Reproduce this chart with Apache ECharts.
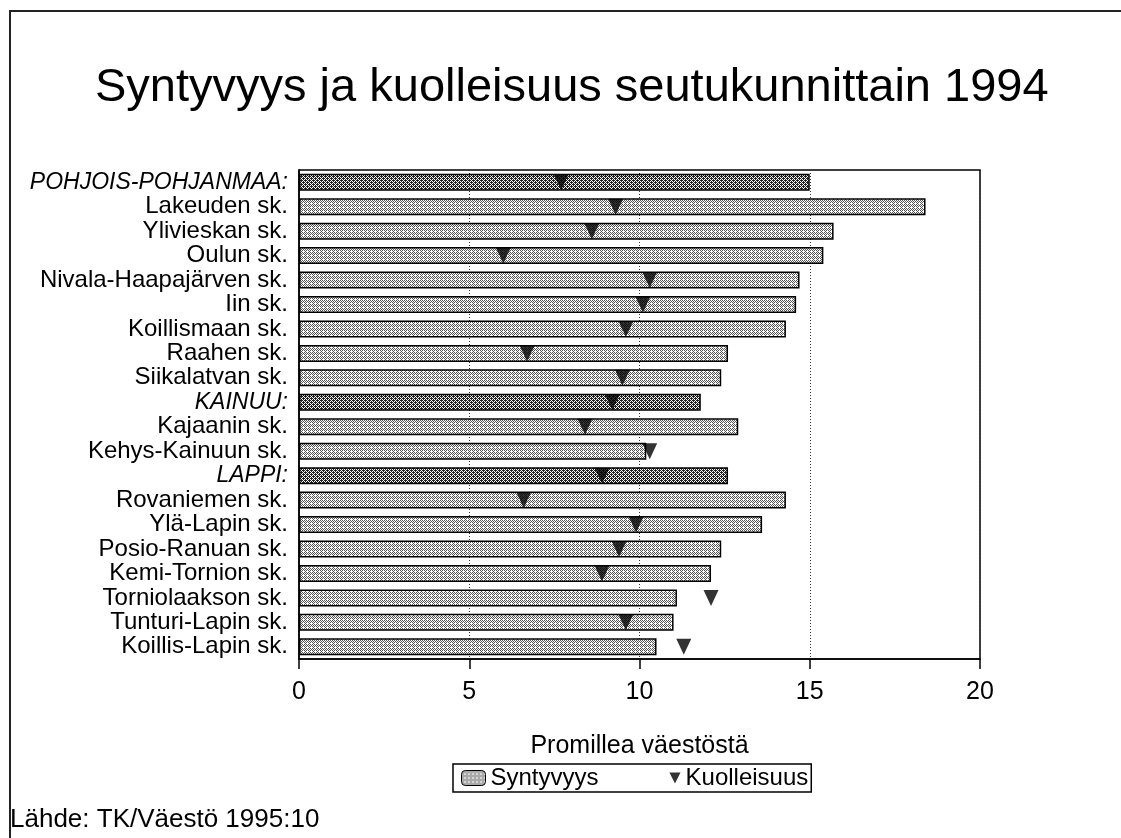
<!DOCTYPE html>
<html>
<head>
<meta charset="utf-8">
<title>Syntyvyys ja kuolleisuus seutukunnittain 1994</title>
<script src="https://cdn.jsdelivr.net/npm/echarts@6/dist/echarts.min.js"></script>
<style>
  html, body { margin: 0; padding: 0; background: #fff; }
  #frame { position: absolute; left: 9px; top: 10px; right: 0; bottom: 0;
           border-left: 2px solid #222; border-top: 2px solid #222; }
  #main { position: absolute; left: 0; top: 0; width: 1121px; height: 838px; }
</style>
</head>
<body>
<div id="frame"></div>
<div id="main"></div>
<script>
// seutukunnat ylhäältä alas
var categories = ['POHJOIS-POHJANMAA:', 'Lakeuden sk.', 'Ylivieskan sk.', 'Oulun sk.',
  'Nivala-Haapajärven sk.', 'Iin sk.', 'Koillismaan sk.', 'Raahen sk.', 'Siikalatvan sk.',
  'KAINUU:', 'Kajaanin sk.', 'Kehys-Kainuun sk.', 'LAPPI:', 'Rovaniemen sk.',
  'Ylä-Lapin sk.', 'Posio-Ranuan sk.', 'Kemi-Tornion sk.', 'Torniolaakson sk.',
  'Tunturi-Lapin sk.', 'Koillis-Lapin sk.'];
var regions = ['POHJOIS-POHJANMAA:', 'KAINUU:', 'LAPPI:'];
var syntyvyys = [15.0, 18.4, 15.7, 15.4, 14.7, 14.6, 14.3, 12.6, 12.4, 11.8,
  12.9, 10.2, 12.6, 14.3, 13.6, 12.4, 12.1, 11.1, 11.0, 10.5];
var kuolleisuus = [7.7, 9.3, 8.6, 6.0, 10.3, 10.1, 9.6, 6.7, 9.5, 9.2,
  8.4, 10.3, 8.9, 6.6, 9.9, 9.4, 8.9, 12.1, 9.6, 11.3];
var xTicks = [0, 5, 10, 15, 20];

// pistekuvio pylväisiin
var makePattern = function(dark) {
  var c = document.createElement('canvas');
  c.width = 4;
  c.height = 4;
  var ctx = c.getContext('2d');
  ctx.fillStyle = '#fff';
  ctx.fillRect(0, 0, 4, 4);
  ctx.fillStyle = dark ? '#222' : '#555';
  var dots = dark
    ? [[0, 0], [2, 0], [1, 1], [3, 1], [0, 2], [2, 2], [1, 3], [3, 3], [1, 0], [3, 2]]
    : [[0, 0], [2, 0], [1, 1], [3, 1], [0, 2], [2, 2], [1, 3]];
  dots.forEach(function(d) { ctx.fillRect(d[0], d[1], 1, 1); });
  return { image: c, repeat: 'repeat' };
};
var lightFill = makePattern(false);
var darkFill = makePattern(true);

var font = '"Liberation Sans", Arial, Helvetica, sans-serif';

var barData = syntyvyys.map(function(v, i) {
  var isRegion = regions.indexOf(categories[i]) >= 0;
  return { value: v, itemStyle: { color: isRegion ? darkFill : lightFill } };
});
var deathData = kuolleisuus.map(function(v, i) {
  return [v, categories[i]];
});

var myChart = echarts.init(document.getElementById('main'));
var option = {
  backgroundColor: 'transparent',
  animation: false,
  textStyle: { fontFamily: font, color: '#000' },
  title: {
    text: 'Syntyvyys ja kuolleisuus seutukunnittain 1994',
    left: 90,
    top: 60,
    textStyle: { fontFamily: font, fontSize: 47, fontWeight: 'normal', color: '#000' }
  },
  graphic: [{
    type: 'text',
    left: 10,
    top: 807,
    style: { text: 'Lähde: TK/Väestö 1995:10', font: '26px ' + font, fill: '#000' }
  }],
  legend: {
    left: 453,
    top: 764,
    padding: [2, 3, 2, 8],
    itemGap: 58,
    itemWidth: 24,
    itemHeight: 15,
    borderColor: '#000',
    borderWidth: 1.5,
    textStyle: { fontFamily: font, fontSize: 24, color: '#000' },
    data: [
      {
        name: 'Syntyvyys',
        itemStyle: { color: lightFill, borderColor: '#000', borderWidth: 1 }
      },
      {
        name: 'Kuolleisuus',
        // kolmio kuvakkeen oikeaan reunaan
        icon: 'path://M0,6 L0,6 M14,0 L26,0 L20,12 Z',
        itemStyle: { color: '#000' }
      }
    ]
  },
  grid: {
    left: 299,
    right: 141,
    top: 170,
    bottom: 179,
    show: true,
    borderColor: '#000',
    borderWidth: 1.5
  },
  xAxis: {
    type: 'value',
    min: 0,
    max: 20,
    interval: 5,
    name: 'Promillea väestöstä',
    nameLocation: 'middle',
    nameGap: 75,
    nameTextStyle: { fontFamily: font, fontSize: 25, color: '#000' },
    axisLine: { show: true, lineStyle: { color: '#000', width: 1.5 } },
    axisTick: { show: true, length: 10, lineStyle: { color: '#000', width: 1.5 } },
    axisLabel: {
      fontFamily: font, fontSize: 25, color: '#000', margin: 21,
      formatter: function(v) { return xTicks.indexOf(v) >= 0 ? String(v) : ''; }
    },
    splitLine: { show: true, lineStyle: { color: '#333', type: [1, 2], width: 1 } }
  },
  yAxis: {
    type: 'category',
    inverse: true,
    data: categories,
    axisLine: { show: true, lineStyle: { color: '#000', width: 1.5 } },
    axisTick: { show: false },
    splitLine: { show: false },
    axisLabel: {
      interval: 0,
      margin: 11,
      fontFamily: font,
      fontSize: 24,
      color: '#000',
      formatter: function(v) {
        return regions.indexOf(v) >= 0 ? '{r|' + v + '}' : v;
      },
      rich: {
        r: { fontFamily: font, fontSize: 23, fontStyle: 'italic', color: '#000' }
      }
    }
  },
  series: [{
    name: 'Syntyvyys',
    type: 'bar',
    data: barData,
    barWidth: 17,
    itemStyle: { color: lightFill, borderColor: '#000', borderWidth: 1.5 },
    z: 2
  }, {
    name: 'Kuolleisuus',
    type: 'scatter',
    data: deathData,
    symbol: 'triangle',
    symbolRotate: 180,
    symbolSize: [15, 16],
    itemStyle: { color: '#000' },
    z: 3
  }]
};
myChart.setOption(option);
</script>
</body>
</html>
